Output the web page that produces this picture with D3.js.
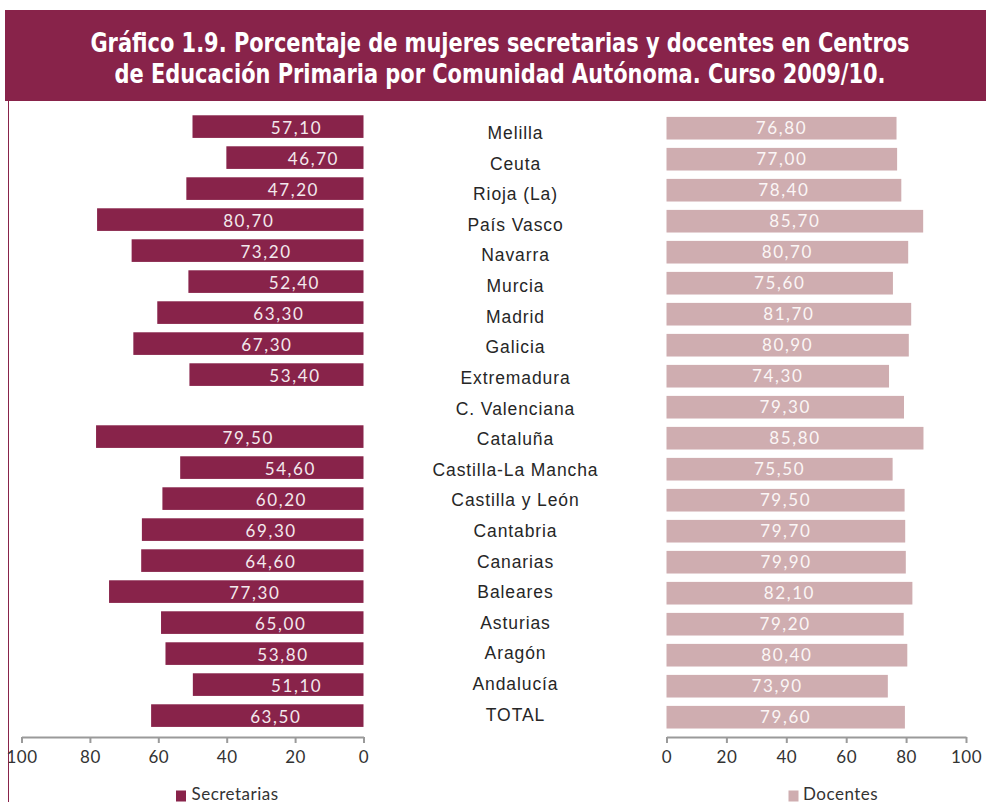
<!DOCTYPE html>
<html>
<head>
<meta charset="utf-8">
<script src="https://cdn.jsdelivr.net/npm/d3@7"></script>
<style>
  html, body { margin: 0; padding: 0; background: #fff; }
  svg { display: block; }
</style>
</head>
<body>
<svg id="chart" width="986" height="802"></svg>
<script>
// ---------- DATA ----------
const titulo = [
  "Gráfico 1.9. Porcentaje de mujeres secretarias y docentes en Centros",
  "de Educación Primaria por Comunidad Autónoma. Curso 2009/10."
];
const categorias = ["Melilla","Ceuta","Rioja (La)","País Vasco","Navarra","Murcia","Madrid","Galicia",
  "Extremadura","C. Valenciana","Cataluña","Castilla-La Mancha","Castilla y León","Cantabria",
  "Canarias","Baleares","Asturias","Aragón","Andalucía","TOTAL"];
// values printed on the bars
const secretarias = [57.1,46.7,47.2,80.7,73.2,52.4,63.3,67.3,53.4,null,79.5,54.6,60.2,69.3,64.6,77.3,65.0,53.8,51.1,63.5];
// bar lengths as drawn in the original picture (they do not match the printed values)
const secretariasBarra = [50.0,40.1,51.8,77.9,67.8,51.2,60.3,67.3,50.9,null,78.2,53.6,58.8,64.8,65.0,74.4,59.2,57.9,49.9,62.1];
const docentes = [76.8,77.0,78.4,85.7,80.7,75.6,81.7,80.9,74.3,79.3,85.8,75.5,79.5,79.7,79.9,82.1,79.2,80.4,73.9,79.6];
const ticks = [0,20,40,60,80,100];
const series = ["Secretarias","Docentes"];

// ---------- STYLE ----------
const colSec = "#88234a";
const colDoc = "#cfadb0";
const fmt = v => d3.format(".2f")(v).replace(".", ",");

const svg = d3.select("#chart");

// title banner
svg.append("rect").attr("x",5).attr("y",10).attr("width",981).attr("height",91).attr("fill",colSec);
svg.append("line").attr("x1",8.5).attr("x2",8.5).attr("y1",100).attr("y2",802)
  .attr("stroke",colSec).attr("stroke-width",1);

const tt = svg.append("g");
[ [titulo[0], 52], [titulo[1], 83] ].forEach(([t, y]) => {
  tt.append("text").attr("transform", `translate(500,${y}) scale(0.895,1)`).attr("text-anchor","middle")
    .attr("font-family","'DejaVu Sans Condensed','Liberation Sans Narrow',sans-serif")
    .attr("font-weight","bold").attr("font-size",26).attr("fill","#fff").text(t);
});

// scales
const y = d3.scaleBand().domain(categorias).range([111.1, 731.1]).paddingInner(0.27).paddingOuter(0.135);
const yLab = d3.scalePoint().domain(categorias).range([139, 720.7]);
const xL = d3.scaleLinear().domain([0,100]).range([363.5, 21.5]);
const xR = d3.scaleLinear().domain([0,100]).range([666.5, 966]);

const valFont = "Lato, 'Open Sans', sans-serif";

// left bars
const gL = svg.append("g");
categorias.forEach((c, i) => {
  const v = secretariasBarra[i];
  if (v == null) return;
  gL.append("rect").attr("x", xL(v)).attr("y", y(c)).attr("width", xL(0) - xL(v))
    .attr("height", y.bandwidth()).attr("fill", colSec);
  gL.append("text").attr("x", (xL(v) + xL(0))/2 + 18.5).attr("y", y(c) + y.bandwidth()/2 + 1.5)
    .attr("dy","0.36em").attr("text-anchor","middle")
    .attr("font-family", valFont).attr("font-size",17).attr("letter-spacing",1.6)
    .attr("fill","#f3e9ed").text(fmt(secretarias[i]));
});

// right bars
const gR = svg.append("g").attr("transform","translate(0,1.6)");
categorias.forEach((c, i) => {
  const v = docentes[i];
  gR.append("rect").attr("x", xR(0)).attr("y", y(c)).attr("width", xR(v) - xR(0))
    .attr("height", y.bandwidth()).attr("fill", colDoc);
  gR.append("text").attr("x", (xR(v) + xR(0))/2).attr("y", y(c) + y.bandwidth()/2)
    .attr("dy","0.36em").attr("text-anchor","middle")
    .attr("font-family", valFont).attr("font-size",17).attr("letter-spacing",1.6)
    .attr("fill","#fbf6f6").text(fmt(v));
});

// category labels
svg.append("g").selectAll("text").data(categorias).join("text")
  .attr("x", 515.5).attr("y", d => yLab(d)).attr("text-anchor","middle")
  .attr("font-family","'Liberation Sans', Arial, sans-serif").attr("font-size",17.5)
  .attr("letter-spacing",0.9).attr("fill","#262626").text(d => d);

// axes
function styleAxis(g) {
  g.select(".domain").attr("stroke","#9a9a9a").attr("stroke-width",2);
  g.selectAll(".tick line").attr("stroke","#9a9a9a").attr("stroke-width",2);
  g.selectAll(".tick text").attr("font-family", valFont).attr("font-size",17)
    .attr("fill","#333").attr("letter-spacing",0.5);
}
svg.append("g").attr("transform","translate(0,737)")
  .call(d3.axisBottom(xL).tickValues(ticks).tickSize(6).tickSizeOuter(0).tickPadding(8))
  .call(styleAxis);
svg.append("g").attr("transform","translate(0,737)")
  .call(d3.axisBottom(xR).tickValues(ticks).tickSize(6).tickSizeOuter(0).tickPadding(8))
  .call(styleAxis);

// legend
const leg = [[series[0], colSec, 176, 191.5], [series[1], colDoc, 788.5, 803]];
leg.forEach(([name, col, sx, tx]) => {
  svg.append("rect").attr("x", sx).attr("y", 790.5).attr("width", 10).attr("height", 11).attr("fill", col);
  svg.append("text").attr("x", tx).attr("y", 799.5).attr("font-family", valFont).attr("font-size",17)
    .attr("fill","#333").attr("letter-spacing",0.5).text(name);
});
</script>
</body>
</html>
